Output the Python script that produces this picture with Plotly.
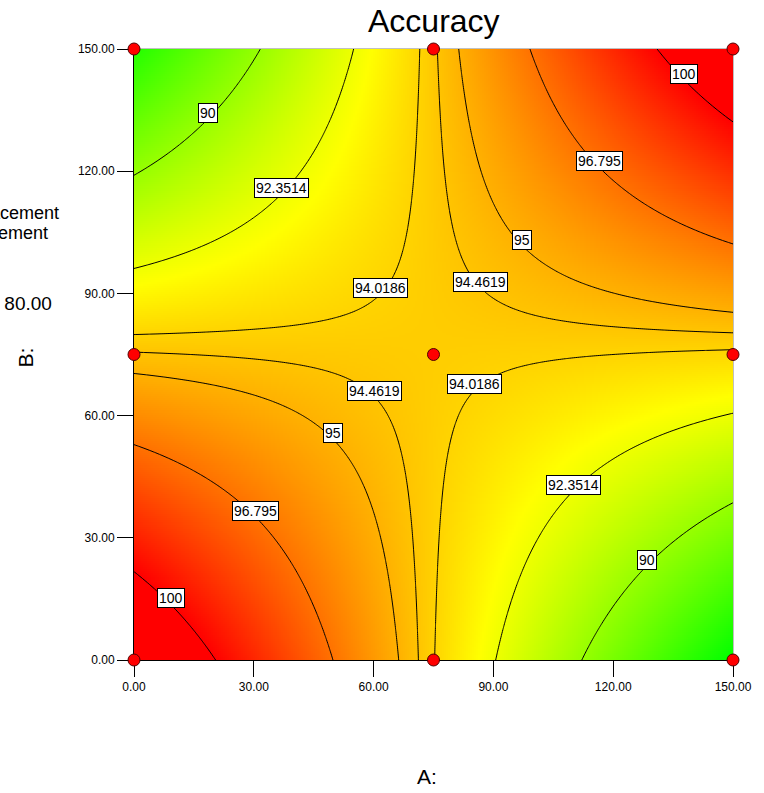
import numpy as np
import plotly.graph_objects as go

# ---- data ----
# fitted response-surface model for Accuracy
coef_intercept = 102.228
coef_A = -0.109044
coef_B = -0.102753
coef_AB = 0.001398

contour_levels = [90, 92.3514, 94.0186, 94.4619, 95, 96.795, 100]
level_labels = ["90", "92.3514", "94.0186", "94.4619", "95", "96.795", "100"]

design_A = [0, 75, 150, 0, 75, 150, 0, 75, 150]
design_B = [0, 0, 0, 75, 75, 75, 150, 150, 150]

tick_vals = [0, 30, 60, 90, 120, 150]
tick_text = ["0.00", "30.00", "60.00", "90.00", "120.00", "150.00"]

# colour anchors in response units
color_low, color_mid, color_high = 85.9, 92.8, 100.0

# ---- surface ----
xs = np.linspace(0, 150, 301)
ys = np.linspace(0, 150, 301)
XX, YY = np.meshgrid(xs, ys)
Z = coef_intercept + coef_A * XX + coef_B * YY + coef_AB * XX * YY

mid_frac = (color_mid - color_low) / (color_high - color_low)
colorscale = [[0, "rgb(0,255,0)"], [mid_frac, "rgb(255,255,0)"], [1, "rgb(255,0,0)"]]

fig = go.Figure()
fig.add_trace(go.Heatmap(x=xs, y=ys, z=Z, colorscale=colorscale, zmin=color_low,
                         zmax=color_high, showscale=False, hoverinfo="skip"))

for L in contour_levels:
    fig.add_trace(go.Contour(x=xs, y=ys, z=Z, showscale=False, hoverinfo="skip",
                             contours=dict(start=L, end=L, size=1, coloring="none"),
                             line=dict(color="black", width=1)))

fig.add_trace(go.Scatter(x=design_A, y=design_B, mode="markers", cliponaxis=False,
                         marker=dict(size=12, color="rgb(255,0,0)",
                                     line=dict(color="#500000", width=1)),
                         hoverinfo="skip"))

# label positions: where each contour crosses the diagonals through the saddle point
A0 = -coef_B / coef_AB
B0 = -coef_A / coef_AB
S = coef_intercept - coef_A * coef_B / coef_AB
annotations = []
for L, lab in zip(contour_levels, level_labels):
    d = (L - S) / coef_AB
    t = np.sqrt(abs(d))
    if d > 0:
        pts = [(A0 + t, B0 + t), (A0 - t, B0 - t)]
    else:
        pts = [(A0 - t, B0 + t), (A0 + t, B0 - t)]
    for (px, py) in pts:
        annotations.append(dict(x=px, y=py, xref="x", yref="y", text=lab, showarrow=False,
                                yshift=6,
                                font=dict(family="Arial", size=14, color="black"),
                                bgcolor="white", bordercolor="black", borderwidth=1,
                                borderpad=1))

W, H = 764, 793
L_M, R_M, T_M, B_M = 134, 28, 49, 133
pw, ph = W - L_M - R_M, H - T_M - B_M


def px2paper(x, y):
    return (x - L_M) / pw, (H - B_M - y) / ph


def add_text(text, x, y, size, xanchor="center", angle=0):
    xp, yp = px2paper(x, y)
    annotations.append(dict(x=xp, y=yp, xref="paper", yref="paper", text=text,
                            showarrow=False, xanchor=xanchor, yanchor="middle",
                            textangle=angle,
                            font=dict(family="Arial", size=size, color="black")))


add_text("Accuracy", 435, 21, 32)
add_text("A:", 428, 776, 21)
add_text("B:", 24, 358, 21, angle=-90)
add_text("Replacement", 61, 213, 18, xanchor="right")
add_text("Cement", 50, 233, 18, xanchor="right")
add_text("= 80.00", 54, 303, 19, xanchor="right")

axis_common = dict(range=[0, 150], tickvals=tick_vals, ticktext=tick_text,
                   ticks="outside", ticklen=16, tickwidth=1, tickcolor="black",
                   showline=True, linecolor="black", linewidth=1, showgrid=False,
                   zeroline=False, layer="below traces",
                   tickfont=dict(family="Arial", size=12, color="black"))

fig.update_layout(
    width=W, height=H,
    margin=dict(l=L_M, r=R_M, t=T_M, b=B_M),
    paper_bgcolor="white", plot_bgcolor="white",
    showlegend=False,
    xaxis=dict(**axis_common),
    yaxis=dict(**axis_common),
    annotations=annotations,
    shapes=[
        dict(type="line", xref="paper", yref="paper", x0=0, x1=1, y0=1, y1=1,
             line=dict(color="#808080", width=1), layer="below"),
        dict(type="line", xref="paper", yref="paper", x0=1, x1=1, y0=0, y1=1,
             line=dict(color="#808080", width=1), layer="below"),
    ],
)

fig.write_html("out.html", config={"displayModeBar": False},
               post_script="document.body.style.margin='0';document.body.style.overflow='hidden';")
